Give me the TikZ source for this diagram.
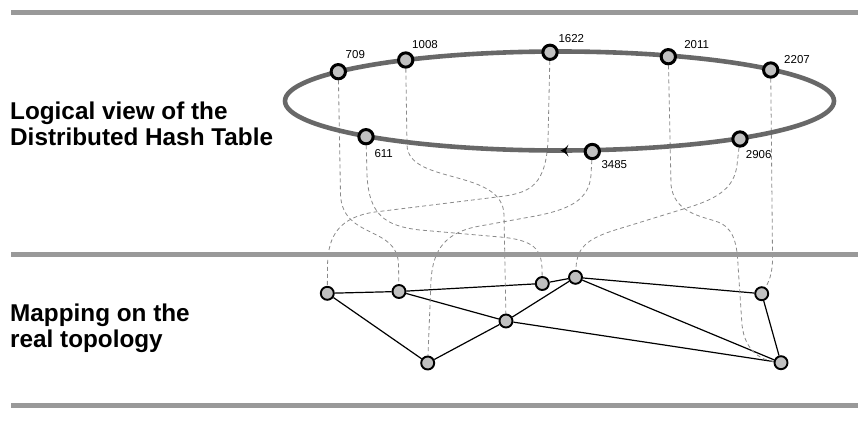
\documentclass[tikz,border=0pt]{standalone}
\usepackage{fontspec}
\setmainfont{Liberation Sans}
\pgfdeclarelayer{bg}
\pgfsetlayers{bg,main}
\definecolor{rulegray}{HTML}{999999}
\definecolor{ringgray}{HTML}{686868}
\definecolor{nodefill}{HTML}{C0C0C0}
\definecolor{dashgray}{HTML}{8A8A8A}
\begin{document}
\begin{tikzpicture}[x=1pt,y=-1pt,
 rulestyle/.style={draw=rulegray,line width=5pt},
 ringline/.style={draw=ringgray,line width=4.6pt},
 ringnode/.style={circle,draw=black,line width=3pt,fill=nodefill,minimum size=14.3pt,inner sep=0pt},
 topnode/.style={circle,draw=black,line width=1.9pt,fill=nodefill,minimum size=13pt,inner sep=0pt},
 idlabel/.style={font=\fontsize{11.5}{13}\selectfont,inner sep=0pt},
 sidelabel/.style={font=\fontsize{24.3}{26}\selectfont\bfseries,inner sep=0pt,anchor=base west},
 mapline/.style={draw=dashgray,line width=0.8pt,dash pattern=on 4pt off 3pt},
 linkline/.style={draw=black,line width=1.2pt}]

\useasboundingbox (0,0) rectangle (858,439);

% horizontal rules
\draw[rulestyle] (11,12.7) -- (858,12.7);
\draw[rulestyle] (11,254.5) -- (858,254.5);
\draw[rulestyle] (11,405) -- (858,405);

% side labels
\node[sidelabel] (l1) at (10,119.5) {Logical view of the};
\node[sidelabel] (l2) at (10,145.5) {Distributed Hash Table};
\node[sidelabel] (l3) at (10,321) {Mapping on the};
\node[sidelabel] (l4) at (10,347.3) {real topology};

% ring
\draw[ringline] (559.5,101) ellipse [x radius=274.5pt, y radius=49.5pt];
\fill[black] (560.5,150.6) .. controls (564,149.5) and (566,147.5) .. (568.5,144.5)
  -- (566,150.6) -- (568.5,156.7) .. controls (566,153.7) and (564,151.7) .. (560.5,150.6) -- cycle;

% ring nodes
\node[ringnode] (r709)  at (338.3,71.7) {};
\node[ringnode] (r1008) at (405.7,60) {};
\node[ringnode] (r1622) at (550,52.3) {};
\node[ringnode] (r2011) at (668.3,56.7) {};
\node[ringnode] (r2207) at (770.7,70) {};
\node[ringnode] (r2906) at (740,139) {};
\node[ringnode] (r3485) at (592.3,151.5) {};
\node[ringnode] (r611)  at (366,136.7) {};

% ring labels
\node[idlabel] (t709)  at (355.3,55) {709};
\node[idlabel] (t1008) at (425,44.2) {1008};
\node[idlabel] (t1622) at (571.3,38.5) {1622};
\node[idlabel] (t2011) at (696.7,44.8) {2011};
\node[idlabel] (t2207) at (797,59.2) {2207};
\node[idlabel] (t2906) at (758.7,155) {2906};
\node[idlabel] (t3485) at (614.3,165) {3485};
\node[idlabel] (t611)  at (383.7,153.8) {611};

% topology nodes
\node[topnode] (tA) at (327.3,293.3) {};
\node[topnode] (tB) at (399,291.5) {};
\node[topnode] (tC) at (427.7,363) {};
\node[topnode] (tD) at (506,321) {};
\node[topnode] (tE) at (542.3,283.5) {};
\node[topnode] (tF) at (575.5,277.3) {};
\node[topnode] (tG) at (761.7,293.7) {};
\node[topnode] (tH) at (781,362.7) {};

\begin{pgfonlayer}{bg}
% topology links
\draw[linkline] (tA) -- (tB);
\draw[linkline] (tA) -- (tC);
\draw[linkline] (tB) -- (tE);
\draw[linkline] (tB) -- (tD);
\draw[linkline] (tC) -- (tD);
\draw[linkline] (tD) -- (tF);
\draw[linkline] (tE) -- (tF);
\draw[linkline] (tD) -- (tH);
\draw[linkline] (tF) -- (tG);
\draw[linkline] (tF) -- (tH);
\draw[linkline] (tG) -- (tH);

% mapping lines
\draw[mapline] (r709) -- (340.5,195) .. controls (343,240) and (398,225) .. (398.5,265) -- (tB);
\draw[mapline] (r1008) -- (407,145) .. controls (408,185) and (503,168) .. (504,215) -- (tD);
\draw[mapline] (r1622) -- (548,140) .. controls (546,185) and (530,192) .. (505,196)
  -- (375,212) .. controls (340,217) and (328,235) .. (327.5,265) -- (tA);
\draw[mapline] (r3485) -- (591,175) .. controls (589,200) and (570,210) .. (530,217)
  -- (480,226) .. controls (445,232) and (433,250) .. (431,280) -- (tC);
\draw[mapline] (r611) -- (367,175) .. controls (369,215) and (385,226) .. (420,230)
  -- (500,237) .. controls (535,240) and (541,250) .. (542,268) -- (tE);
\draw[mapline] (r2011) -- (671,185) .. controls (674,212) and (700,216) .. (715,221)
  .. controls (732,226) and (737,240) .. (738,265) -- (742,325)
  .. controls (745,352) and (762,360) .. (tH);
\draw[mapline] (r2906) -- (737,165) .. controls (734,190) and (715,200) .. (680,210)
  -- (625,227) .. controls (590,237) and (577,245) .. (576,268) -- (tF);
\draw[mapline] (r2207) -- (772.5,255) .. controls (773,275) and (768,283) .. (tG);
\end{pgfonlayer}
\end{tikzpicture}
\end{document}
